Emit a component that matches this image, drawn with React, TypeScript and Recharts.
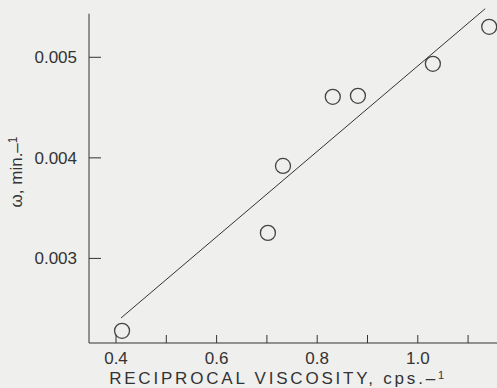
import React from 'react';
import {
  ScatterChart,
  Scatter,
  XAxis,
  YAxis,
  ReferenceLine,
} from 'recharts';

// measured points: reciprocal viscosity (cps^-1) vs omega (min^-1)
const recipViscosity = [0.412, 0.702, 0.732, 0.831, 0.881, 1.03, 1.142];
const omega = [0.00228, 0.003254, 0.00392, 0.004607, 0.004617, 0.004935, 0.005303];

// fitted straight line, end points
const fitX = [0.41, 1.134];
const fitY = [0.002408, 0.005483];

const xTicks = [0.4, 0.5, 0.6, 0.7, 0.8, 0.9, 1.0, 1.1];
const xTickLabels = ['0.4', '', '0.6', '', '0.8', '', '1.0', ''];
const yTicks = [0.003, 0.004, 0.005];
const yTickLabels = ['0.003', '0.004', '0.005'];

const X_DOMAIN: [number, number] = [0.3463, 1.1575];
const Y_DOMAIN: [number, number] = [0.002159, 0.0055];
const Y_AXIS_TOP = 0.005433;

const points = recipViscosity.map((x, i) => ({ x, y: omega[i] }));
const fitLine = fitX.map((x, i) => ({ x, y: fitY[i] }));

const INK = '#333333';
const FONT = '"Liberation Sans", Arial, Helvetica, sans-serif';

const XTick = (props: any) => {
  const { x, y, payload, index } = props;
  const label = xTickLabels[index ?? xTicks.indexOf(payload.value)];
  return (
    <g>
      <line x1={x} x2={x} y1={y} y2={y - 8} stroke={INK} strokeWidth={1} />
      {label ? (
        <text x={x} y={y + 21} textAnchor="middle" fontSize={17} fill={INK} fontFamily={FONT}>
          {label}
        </text>
      ) : null}
    </g>
  );
};

const YTick = (props: any) => {
  const { x, y, payload, index } = props;
  const label = yTickLabels[index ?? yTicks.indexOf(payload.value)];
  return (
    <g>
      <line x1={x} x2={x + 12} y1={y} y2={y} stroke={INK} strokeWidth={1} />
      <text x={x - 12} y={y + 6} textAnchor="end" fontSize={17} fill={INK} fontFamily={FONT}>
        {label}
      </text>
    </g>
  );
};

const OpenCircle = (props: any) => {
  const { cx, cy } = props;
  return <circle cx={cx} cy={cy} r={7.5} fill="none" stroke="#444" strokeWidth={1.3} />;
};

const NoDot = () => <g />;

export default function App() {
  return (
    <div style={{ position: 'absolute', left: 0, top: 0, width: 497, height: 388, background: '#efefed' }}>
      <ScatterChart width={497} height={388} margin={{ top: 7, right: 0, bottom: 0, left: 0 }}>
        <XAxis
          type="number"
          dataKey="x"
          domain={X_DOMAIN}
          ticks={xTicks}
          allowDataOverflow
          tickSize={0}
          tickMargin={0}
          tickLine={false}
          tick={<XTick />}
          axisLine={{ stroke: INK, strokeWidth: 1 }}
          height={45}
          label={{
            content: () => (
              <text x={278} y={384} textAnchor="middle" fontSize={17} letterSpacing={2.8} fill={INK} fontFamily={FONT}>
                RECIPROCAL VISCOSITY, cps.–
                <tspan fontSize={11} dy={-5}>1</tspan>
              </text>
            ),
          }}
        />
        <YAxis
          type="number"
          dataKey="y"
          domain={Y_DOMAIN}
          ticks={yTicks}
          allowDataOverflow
          tickSize={0}
          tickMargin={0}
          tickLine={false}
          tick={<YTick />}
          axisLine={false}
          width={89}
          label={{
            content: () => (
              <text
                x={0}
                y={0}
                transform="translate(22 172) rotate(-90)"
                textAnchor="middle"
                fontSize={17}
                fill={INK}
                fontFamily={FONT}
              >
                ω, min.–<tspan fontSize={12} dy={-5}>1</tspan>
              </text>
            ),
          }}
        />
        <ReferenceLine
          segment={[
            { x: X_DOMAIN[0], y: Y_DOMAIN[0] },
            { x: X_DOMAIN[0], y: Y_AXIS_TOP },
          ]}
          stroke={INK}
          strokeWidth={1}
          ifOverflow="visible"
        />
        <Scatter
          data={fitLine}
          line={{ stroke: INK, strokeWidth: 1 }}
          shape={<NoDot />}
          isAnimationActive={false}
        />
        <Scatter data={points} shape={<OpenCircle />} isAnimationActive={false} />
      </ScatterChart>
    </div>
  );
}
